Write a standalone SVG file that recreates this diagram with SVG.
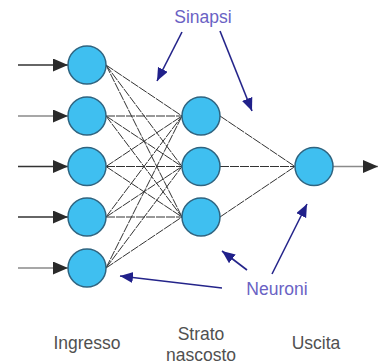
<svg xmlns="http://www.w3.org/2000/svg" width="380" height="364" viewBox="0 0 380 364">
<style>
.n{fill:#3fbff0;stroke:#2f6480;stroke-width:1.5}
.syn{stroke:#333;stroke-width:1;fill:none;stroke-dasharray:9 1}
.in{stroke:#333;stroke-width:1.6;fill:none}
.inl{stroke:#8a8a8a;stroke-width:1.4;fill:none}
.pt{stroke:#24248a;stroke-width:1.6;fill:none}
.lbl{font-family:"Liberation Sans",Arial,sans-serif;font-size:17.5px;fill:#505050;text-anchor:middle}
.ann{font-family:"Liberation Sans",Arial,sans-serif;font-size:17.5px;fill:#6a62c4;text-anchor:middle}
</style>
<defs>
<marker id="ah" markerUnits="userSpaceOnUse" markerWidth="16" markerHeight="14" refX="15" refY="6.5" orient="auto">
<path d="M0,0 L15,6.5 L0,13 Z" fill="#2a2a2a"/>
</marker>
<marker id="nh" markerUnits="userSpaceOnUse" markerWidth="14" markerHeight="12" refX="13" refY="5.5" orient="auto">
<path d="M0,0 L13,5.5 L0,11 Z" fill="#20208a"/>
</marker>
</defs>
<rect width="380" height="364" fill="#fff"/>
<g id="connectors">
<g id="synapses1">
<line class="syn" x1="106" y1="65" x2="182" y2="116"/>
<line class="syn" x1="106" y1="65" x2="182" y2="166.5"/>
<line class="syn" x1="106" y1="65" x2="182" y2="217"/>
<line class="syn" x1="106" y1="116" x2="182" y2="116"/>
<line class="syn" x1="106" y1="116" x2="182" y2="166.5"/>
<line class="syn" x1="106" y1="116" x2="182" y2="217"/>
<line class="syn" x1="106" y1="166.5" x2="182" y2="116"/>
<line class="syn" x1="106" y1="166.5" x2="182" y2="166.5"/>
<line class="syn" x1="106" y1="166.5" x2="182" y2="217"/>
<line class="syn" x1="106" y1="217" x2="182" y2="116"/>
<line class="syn" x1="106" y1="217" x2="182" y2="166.5"/>
<line class="syn" x1="106" y1="217" x2="182" y2="217"/>
<line class="syn" x1="106" y1="268" x2="182" y2="116"/>
<line class="syn" x1="106" y1="268" x2="182" y2="166.5"/>
<line class="syn" x1="106" y1="268" x2="182" y2="217"/>
</g>
<g id="synapses2">
<line class="syn" x1="220" y1="116" x2="295" y2="166.5"/>
<line class="syn" x1="220" y1="166.5" x2="295" y2="166.5"/>
<line class="syn" x1="220" y1="217" x2="295" y2="166.5"/>
</g>
<g id="inputs">
<line class="in" x1="18" y1="65" x2="68" y2="65" marker-end="url(#ah)"/>
<line class="inl" x1="18" y1="116" x2="68" y2="116" marker-end="url(#ah)"/>
<line class="in" x1="18" y1="166.5" x2="68" y2="166.5" marker-end="url(#ah)"/>
<line class="in" x1="18" y1="217" x2="68" y2="217" marker-end="url(#ah)"/>
<line class="inl" x1="18" y1="268" x2="68" y2="268" marker-end="url(#ah)"/>
<line class="inl" x1="333" y1="166.5" x2="378" y2="166.5" marker-end="url(#ah)"/>
</g>
<g id="pointers">
<line class="pt" x1="182" y1="32" x2="157" y2="81" marker-end="url(#nh)"/>
<line class="pt" x1="220" y1="31" x2="252" y2="111" marker-end="url(#nh)"/>
<line class="pt" x1="247" y1="270" x2="222" y2="251" marker-end="url(#nh)"/>
<line class="pt" x1="272" y1="274" x2="307" y2="204" marker-end="url(#nh)"/>
<line class="pt" x1="222" y1="288" x2="120" y2="276" marker-end="url(#nh)"/>
</g>
</g>
<g id="in1"><circle class="n" cx="87" cy="65" r="19"/></g>
<g id="in2"><circle class="n" cx="87" cy="116" r="19"/></g>
<g id="in3"><circle class="n" cx="87" cy="166.5" r="19"/></g>
<g id="in4"><circle class="n" cx="87" cy="217" r="19"/></g>
<g id="in5"><circle class="n" cx="87" cy="268" r="19"/></g>
<g id="h1"><circle class="n" cx="201" cy="116" r="19"/></g>
<g id="h2"><circle class="n" cx="201" cy="166.5" r="19"/></g>
<g id="h3"><circle class="n" cx="201" cy="217" r="19"/></g>
<g id="out"><circle class="n" cx="314" cy="166.5" r="19"/></g>
<g id="labels">
<text class="ann" x="203" y="23">Sinapsi</text>
<text class="ann" x="277" y="295">Neuroni</text>
<text class="lbl" x="87" y="349">Ingresso</text>
<text class="lbl" x="201" y="340">Strato</text>
<text class="lbl" x="201" y="361">nascosto</text>
<text class="lbl" x="316" y="349">Uscita</text>
</g>
</svg>
